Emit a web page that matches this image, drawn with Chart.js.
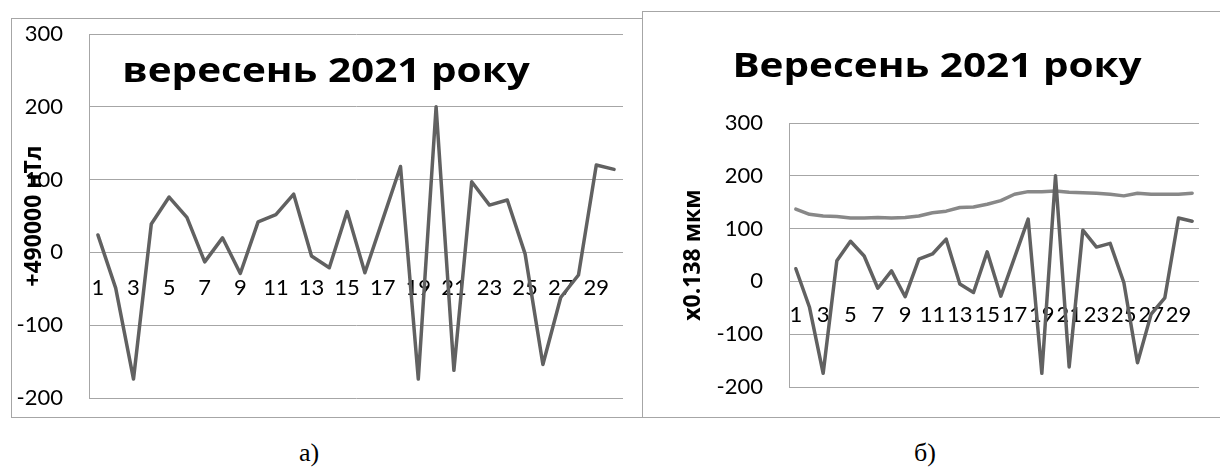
<!DOCTYPE html>
<html>
<head>
<meta charset="utf-8">
<script src="https://cdn.jsdelivr.net/npm/chart.js@4"></script>
<style>
  body { margin: 0; background: #fff; width: 1220px; height: 470px; position: relative; overflow: hidden; }
  .box { position: absolute; border: 1px solid #a6a6a6; background: #fff; }
  #boxA { left: 11px; top: 18px; width: 630px; height: 398px; }
  #boxB { left: 642px; top: 11px; width: 578px; height: 405px; }
  .title { position: absolute; font-family: "Open Sans", sans-serif; font-weight: bold; font-size: 34px;
           line-height: 34px; white-space: nowrap; color: #000; transform: translateX(-50%) scaleX(1.19); transform-origin: center; }
  .caption { position: absolute; font-family: "Liberation Serif", serif; font-size: 26px; line-height: 26px; color: #000; }
</style>
</head>
<body>
<div class="box" id="boxA"><canvas id="chartA" width="630" height="398"></canvas></div>
<div class="box" id="boxB"><canvas id="chartB" width="578" height="405"></canvas></div>
<div class="title" style="left:326px; top:52px;">вересень 2021 року</div>
<div class="title" style="left:937px; top:47px;">Вересень 2021 року</div>
<div class="caption" style="left:299px; top:440px;">а)</div>
<div class="caption" style="left:914px; top:440px;">б)</div>
<script>
// days of September 2021
const days = ['1', '2', '3', '4', '5', '6', '7', '8', '9', '10',
  '11', '12', '13', '14', '15', '16', '17', '18', '19', '20',
  '21', '22', '23', '24', '25', '26', '27', '28', '29', '30'];

// field, +490000 nT
const fieldValues = [24, -49, -174, 39, 76, 48, -13, 20, -29, 42,
  52, 80, -5, -21, 56, -28, 45, 118, -174, 200,
  -162, 97, 65, 72, -2, -154, -62, -31, 120, 114];

// tilt, x0.138 um
const tiltValues = [137, 127, 124, 123, 120, 120, 121, 120, 121, 124,
  130, 133, 140, 141, 146, 153, 165, 170, 170, 171,
  169, 168, 167, 165, 162, 167, 165, 165, 165, 167];

const yMin = -200;
const yMax = 300;
const yStep = 100;

const gridGrey = '#a6a6a6';
const tickFont = { family: 'Lato, "Open Sans", sans-serif', size: 22 };

function lineSet(data, color) {
  return {
    data: data,
    borderColor: color,
    borderWidth: 3.5,
    pointRadius: 0,
    tension: 0,
    borderJoinStyle: 'round',
    borderCapStyle: 'round'
  };
}

function buildOptions(yTitle, yWidth, titlePad, labelPad, padding) {
  return {
    responsive: false,
    animation: false,
    layout: { padding: padding },
    plugins: { legend: { display: false }, tooltip: { enabled: false } },
    scales: {
      x: {
        type: 'category',
        offset: true,
        position: { y: 0 },
        grid: { display: false, drawTicks: false },
        border: { display: false },
        ticks: {
          autoSkip: false,
          maxRotation: 0,
          minRotation: 0,
          padding: labelPad,
          color: '#000',
          font: tickFont,
          callback: function (value, index) {
            return index % 2 === 0 ? this.getLabelForValue(value) : '';
          }
        }
      },
      y: {
        min: yMin,
        max: yMax,
        // gap between labels and axis comes from an invisible tick mark,
        // tick padding would also inflate the top/bottom margins
        ticks: { stepSize: yStep, padding: 0, color: '#000', font: tickFont },
        grid: { color: gridGrey, lineWidth: 1, drawTicks: true, tickLength: 26, tickColor: 'rgba(0,0,0,0)' },
        border: { display: true, color: gridGrey, width: 1 },
        title: {
          display: true,
          text: yTitle,
          color: '#000',
          font: { family: '"Open Sans", sans-serif', size: 23, weight: 'bold', lineHeight: 1.2 },
          padding: { top: titlePad, bottom: 0 }
        },
        afterFit: function (scale) { scale.width = yWidth; }
      }
    }
  };
}

new Chart(document.getElementById('chartA'), {
  type: 'line',
  data: { labels: days, datasets: [lineSet(fieldValues, '#616161')] },
  options: buildOptions('+490000 нТл', 77, 9, 22, { left: 0, top: 15, right: 19, bottom: 19 })
});

new Chart(document.getElementById('chartB'), {
  type: 'line',
  data: {
    labels: days,
    datasets: [lineSet(fieldValues, '#616161'), lineSet(tiltValues, '#888888')]
  },
  options: buildOptions('x0.138 мкм', 146, 37, 20, { left: 0, top: 111, right: 22, bottom: 30 })
});
</script>
</body>
</html>
